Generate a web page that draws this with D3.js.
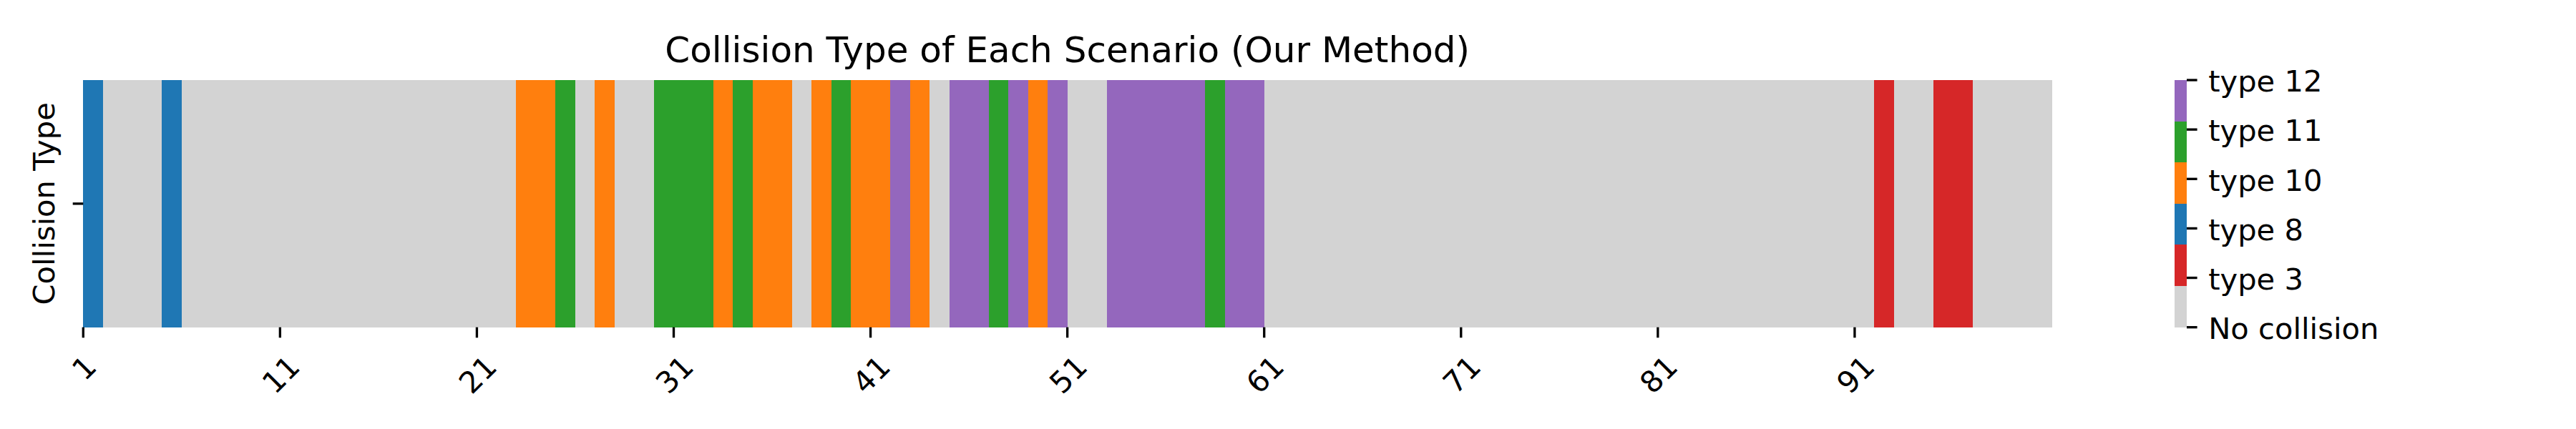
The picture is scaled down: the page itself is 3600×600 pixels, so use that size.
<!DOCTYPE html>
<html>
<head>
<meta charset="utf-8">
<script src="https://cdn.jsdelivr.net/npm/d3@7"></script>
<style>
  html, body { margin: 0; padding: 0; background: #ffffff; }
  svg { display: block; }
  text { font-family: "DejaVu Sans", sans-serif; fill: #000; }
</style>
</head>
<body>
<div id="chart"></div>
<script>
// ---- data ----
const scenarios = d3.range(1, 101);
// collision type per scenario (0 = No collision)
const collisionTypes = [
  8, 0, 0, 0, 8, 0, 0, 0, 0, 0,
  0, 0, 0, 0, 0, 0, 0, 0, 0, 0,
  0, 0, 10, 10, 11, 0, 10, 0, 0, 11,
  11, 11, 10, 11, 10, 10, 0, 10, 11, 10,
  10, 12, 10, 0, 12, 12, 11, 12, 10, 12,
  0, 0, 12, 12, 12, 12, 12, 11, 12, 12,
  0, 0, 0, 0, 0, 0, 0, 0, 0, 0,
  0, 0, 0, 0, 0, 0, 0, 0, 0, 0,
  0, 0, 0, 0, 0, 0, 0, 0, 0, 0,
  0, 3, 0, 0, 3, 3, 0, 0, 0, 0
];
const typeValues = [0, 3, 8, 10, 11, 12];
const typeLabels = ["No collision", "type 3", "type 8", "type 10", "type 11", "type 12"];
const typeColors = ["#d3d3d3", "#d62728", "#1f77b4", "#ff7f0e", "#2ca02c", "#9467bd"];
const xTickScenarios = [1, 11, 21, 31, 41, 51, 61, 71, 81, 91];
const titleText = "Collision Type of Each Scenario (Our Method)";
const yLabelText = "Collision Type";

// ---- layout ----
const W = 3600, H = 600;
const px0 = 116.3, px1 = 2867, py0 = 112, py1 = 457.7;
const fs = 41.67, titleFs = 50;
const tickLen = 14.6, tickPad = 14.6, tickW = 3.33;
const cbX0 = 3039, cbX1 = 3056;

const svg = d3.select("#chart").append("svg")
  .attr("width", W).attr("height", H)
  .attr("viewBox", `0 0 ${W} ${H}`);
svg.append("rect").attr("width", W).attr("height", H).attr("fill", "#fff");

const x = d3.scaleBand().domain(scenarios).range([px0, px1]).padding(0);
const color = d3.scaleOrdinal().domain(typeValues).range(typeColors);

// heatmap cells
svg.append("g").selectAll("rect")
  .data(scenarios.map((s, i) => ({ s, t: collisionTypes[i] })))
  .join("rect")
  .attr("x", d => x(d.s))
  .attr("y", py0)
  .attr("width", x.bandwidth() + 0.5)
  .attr("height", py1 - py0)
  .attr("fill", d => color(d.t))
  .attr("shape-rendering", "crispEdges");

// x ticks at left edge of cells
const xt = svg.append("g");
xTickScenarios.forEach(s => {
  const tx = x(s);
  xt.append("line")
    .attr("x1", tx).attr("x2", tx)
    .attr("y1", py1).attr("y2", py1 + tickLen)
    .attr("stroke", "#000").attr("stroke-width", tickW);
  const t = xt.append("text")
    .attr("font-size", fs)
    .attr("text-anchor", "middle")
    .attr("dy", "0.39em")
    .text(String(s));
  const w = t.node().getComputedTextLength();
  const hh = (w + 1.164 * fs) * Math.SQRT1_2;
  const cy = py1 + tickLen + tickPad + hh / 2;
  t.attr("transform", `translate(${tx},${cy}) rotate(-45)`);
});

// y tick (single row, centered)
const yMid = (py0 + py1) / 2;
svg.append("line")
  .attr("x1", px0 - tickLen).attr("x2", px0)
  .attr("y1", yMid).attr("y2", yMid)
  .attr("stroke", "#000").attr("stroke-width", tickW);

// y label
svg.append("text")
  .attr("font-size", fs)
  .attr("text-anchor", "middle")
  .attr("transform", `translate(76,${yMid}) rotate(-90)`)
  .text(yLabelText);

// title
svg.append("text")
  .attr("font-size", titleFs)
  .attr("text-anchor", "middle")
  .attr("x", (px0 + px1) / 2)
  .attr("y", 87)
  .text(titleText);

// colorbar
const n = typeValues.length;
const segScale = d3.scaleLinear().domain([0, n]).range([py1, py0]);
const tickScale = d3.scaleLinear().domain([0, n - 1]).range([py1, py0]);
const cb = svg.append("g");
typeValues.forEach((v, i) => {
  cb.append("rect")
    .attr("x", cbX0).attr("width", cbX1 - cbX0)
    .attr("y", segScale(i + 1))
    .attr("height", segScale(i) - segScale(i + 1))
    .attr("fill", color(v))
    .attr("shape-rendering", "crispEdges");
});
typeLabels.forEach((lab, i) => {
  const ty = tickScale(i);
  cb.append("line")
    .attr("x1", cbX1).attr("x2", cbX1 + tickLen)
    .attr("y1", ty).attr("y2", ty)
    .attr("stroke", "#000").attr("stroke-width", tickW);
  cb.append("text")
    .attr("font-size", fs)
    .attr("x", cbX1 + tickLen + tickPad + 1)
    .attr("y", ty)
    .attr("dy", "0.39em")
    .text(lab);
});
</script>
</body>
</html>
